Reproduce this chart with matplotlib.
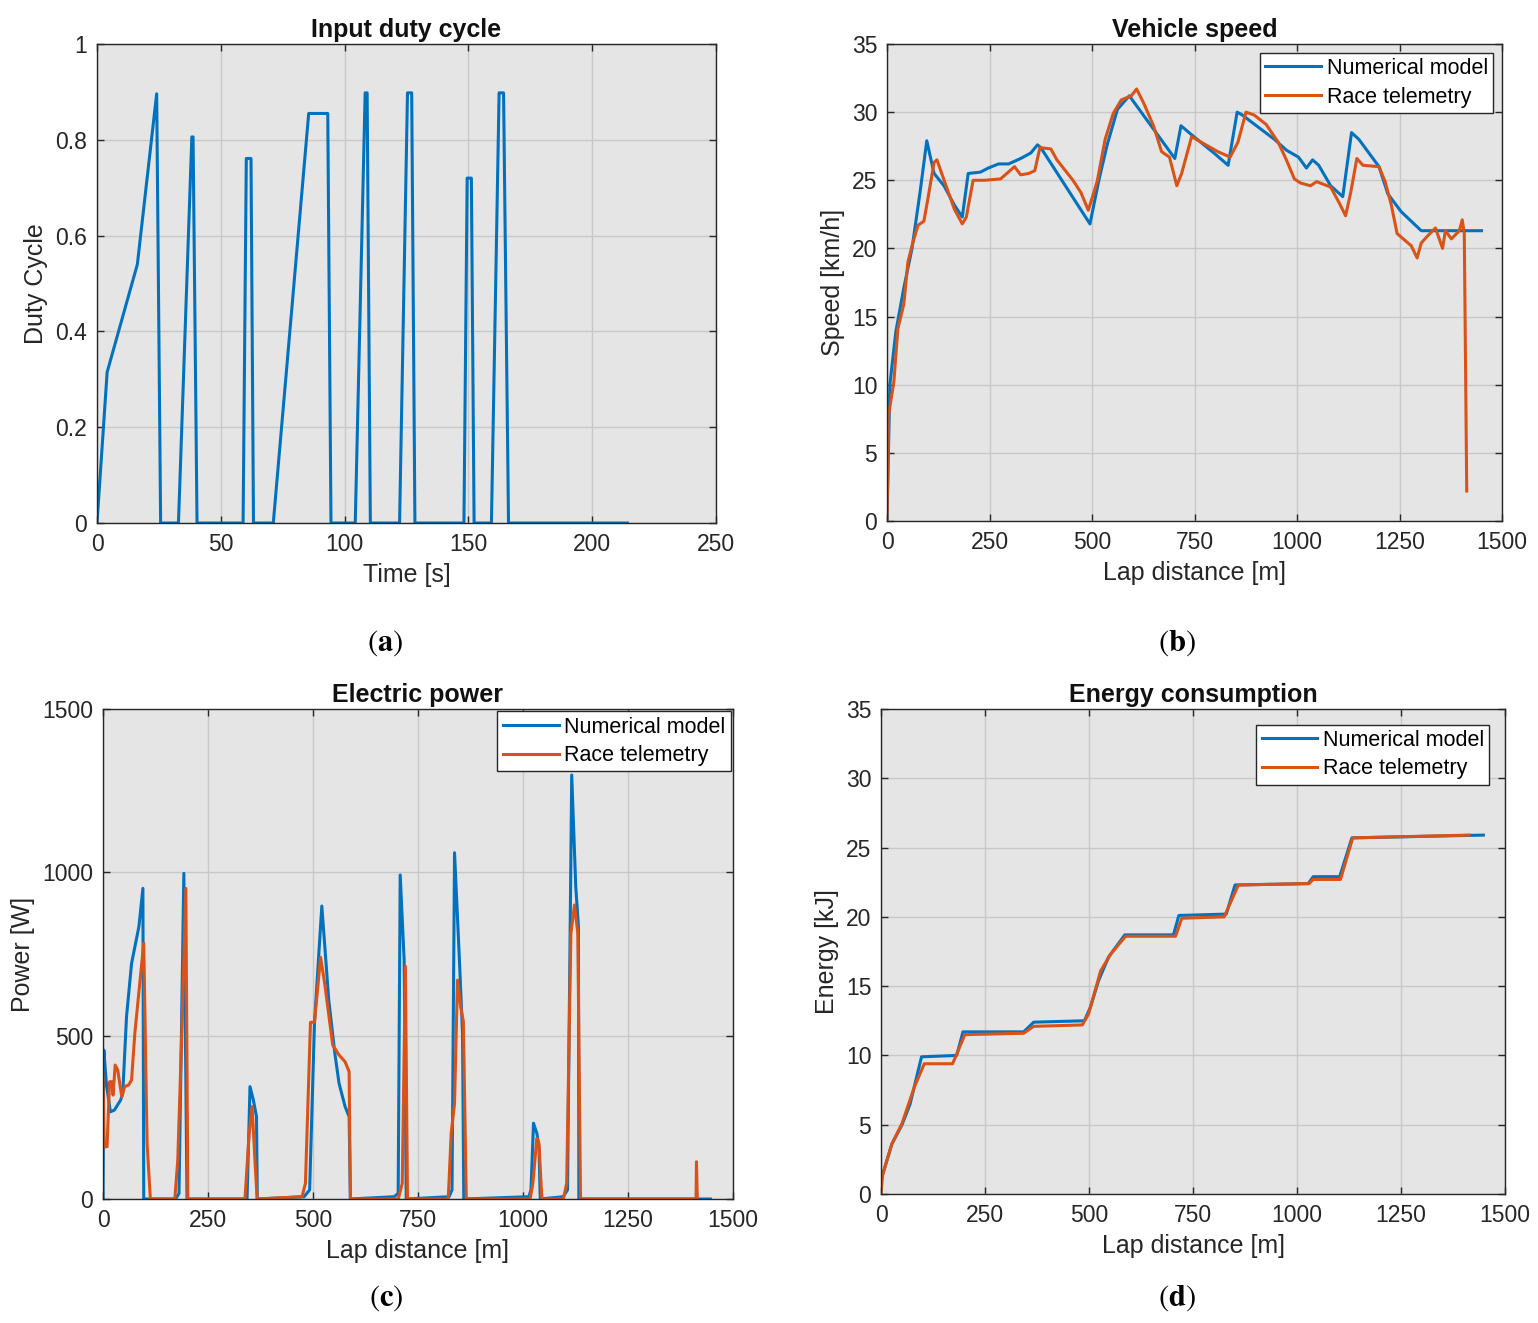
import matplotlib
matplotlib.use("Agg")
import matplotlib.pyplot as plt

# ---------------- data ----------------
# (a) Input duty cycle
duty_t = [0, 4.1, 16.3, 24.1, 25.7, 32.9, 38.3, 38.8, 40.4, 59.0, 60.3, 62.2, 63.2,
          71.2, 85.5, 93.2, 94.5, 104.3, 108.3, 109.1, 110.4, 122.2, 125.4, 127.1, 128.4,
          148.2, 149.5, 151.2, 152.3, 159.3, 162.4, 164.2, 166.2, 214.2]
duty_v = [0, 0.315, 0.54, 0.896, 0, 0, 0.806, 0.806, 0, 0, 0.761, 0.761, 0,
          0, 0.855, 0.855, 0, 0, 0.898, 0.898, 0, 0, 0.898, 0.898, 0,
          0, 0.72, 0.72, 0, 0, 0.898, 0.898, 0, 0]

# (b) Vehicle speed
speed_model_x = [0, 7, 21.6, 41, 61, 80.5, 97, 114.8, 139, 164, 183.6, 198, 228, 247, 272,
                 296.6, 326, 350.6, 367, 375, 495, 517.5, 537, 562, 591, 702, 717, 748.5,
                 797.5, 832, 854, 866, 945, 974.6, 1003.6, 1023, 1038, 1053, 1082, 1111.6,
                 1133, 1151, 1200, 1221.6, 1254, 1303, 1450]
speed_model_y = [0, 10, 13.9, 17.1, 20, 24.1, 27.9, 25.5, 24.6, 23.2, 22.3, 25.5, 25.6, 25.9,
                 26.2, 26.2, 26.6, 27.0, 27.6, 27.4, 21.8, 25.1, 27.6, 30.2, 31.2, 26.6, 29.0,
                 28.2, 27.0, 26.1, 30.0, 29.8, 28.0, 27.2, 26.7, 25.9, 26.5, 26.1, 24.6, 23.8,
                 28.5, 28.0, 26.0, 24.0, 22.7, 21.3, 21.3]
speed_tel_x = [0, 4, 16.7, 26.5, 41, 51, 61, 75.6, 90, 100, 114.8, 121.8, 144, 164, 183.6,
               193.5, 210, 237.6, 277, 311, 326, 345.6, 360.4, 373, 399.6, 414.4, 453.6, 473,
               491, 512.5, 532, 551.7, 571.5, 596, 608.8, 625.5, 650, 669.7, 689, 706.8, 718.6,
               743, 777.7, 807, 837, 856, 875.6, 895, 924.7, 954, 974, 993.6, 1008.5, 1033,
               1048, 1082, 1102, 1118.5, 1131, 1146, 1160.8, 1200, 1215, 1230, 1244, 1259,
               1278.6, 1293, 1303, 1318, 1337.6, 1347, 1355, 1362, 1376.6, 1396, 1403, 1408, 1414]
speed_tel_y = [0, 7.8, 10.2, 14.1, 15.9, 19.0, 20.2, 21.7, 22.0, 23.7, 26.3, 26.5, 24.6, 22.9,
               21.8, 22.3, 25.0, 25.0, 25.1, 26.0, 25.4, 25.5, 25.7, 27.4, 27.3, 26.5, 25.0,
               24.1, 22.8, 24.9, 28.0, 29.9, 30.9, 31.2, 31.7, 30.7, 29.0, 27.1, 26.7, 24.6,
               25.5, 28.2, 27.6, 27.1, 26.7, 27.8, 30.0, 29.8, 29.1, 27.8, 26.5, 25.1, 24.8,
               24.6, 24.9, 24.5, 23.4, 22.4, 24.1, 26.6, 26.1, 26.0, 24.9, 23.2, 21.1, 20.7,
               20.2, 19.3, 20.4, 20.9, 21.5, 20.7, 20.0, 21.3, 20.7, 21.3, 22.1, 21.1, 2.2]

# (c) Electric power
power_model_x = [0, 2, 8, 17.5, 27, 42, 47, 56, 68, 85.5, 95, 97, 173, 181, 192.5, 200,
                 343, 350, 358, 365.5, 367.4, 479, 492, 503.5, 521, 537.5, 552, 562, 576.4,
                 586, 589, 693, 702.8, 707.6, 717, 722, 824, 831, 837, 848.6, 856, 859,
                 1014, 1019, 1025, 1033, 1038, 1041, 1096, 1106, 1116, 1125.6, 1132, 1133, 1446]
power_model_y = [0, 456, 354, 267, 272, 303, 323, 558, 721, 834, 951, 0, 0, 17, 997, 0,
                 0, 344, 303, 252, 0, 7, 28, 538, 897, 609, 446, 354, 283,
                 252, 0, 7, 17, 992, 732, 0, 7, 28, 1060, 732, 507, 0,
                 7, 28, 232, 201, 160, 0, 7, 28, 1298, 956, 834, 0, 0]
power_tel_x = [0, 3, 9.7, 15.6, 21, 24, 29, 35, 44.7, 51.5, 61, 68, 75.8, 87.5, 97, 105, 112.8,
               171, 178, 187.6, 197.3, 202, 338, 348, 355, 362.6, 367, 474, 482, 494, 503.5,
               518, 528, 547, 562, 576.4, 586, 589, 703, 712.5, 720, 725, 822, 829, 837, 844,
               851.5, 858, 865, 1017, 1023.5, 1033, 1038, 1045, 1096, 1104, 1114, 1122.7,
               1130.5, 1137, 1412, 1413, 1415]
power_tel_y = [380, 160, 160, 359, 359, 318, 410, 395, 313, 344, 349, 364, 507, 660, 783, 170, 0,
               0, 119, 507, 951, 0, 0, 201, 283, 99, 0, 7, 48, 541, 541,
               740, 658, 471, 441, 420, 390, 0, 0, 48, 712, 0, 0, 201, 293, 670,
               589, 543, 0, 0, 48, 186, 170, 0, 0, 48, 813, 900,
               813, 0, 0, 114, 0]

# (d) Energy consumption
energy_model_x = [0, 2, 26, 50.6, 70, 97.4, 182, 197, 343, 367, 489, 503.6, 523, 547, 586,
                  703, 716, 830, 851, 1027, 1039, 1102.6, 1132, 1448]
energy_model_y = [0.9, 1.2, 3.6, 5.0, 6.5, 9.9, 10.0, 11.7, 11.7, 12.4, 12.5, 13.5, 15.4, 17.1,
                  18.7, 18.7, 20.1, 20.2, 22.3, 22.4, 22.9, 22.9, 25.7, 25.9]
energy_tel_x = [0, 4, 26, 50.6, 80, 104, 172, 182, 201.6, 343, 367, 484, 499, 528, 552, 588,
                708, 723, 825, 859, 1029, 1039, 1104.5, 1134, 1414]
energy_tel_y = [0, 1.4, 3.6, 5.1, 7.7, 9.4, 9.4, 10.1, 11.5, 11.6, 12.1, 12.2, 13.0, 16.1, 17.3,
                18.6, 18.6, 19.9, 20.0, 22.3, 22.4, 22.7, 22.7, 25.7, 25.9]

series_labels = ["Numerical model", "Race telemetry"]

# ---------------- style ----------------
BLUE = "#0072BD"
ORANGE = "#D95319"
plt.rcParams["font.family"] = ["Liberation Sans", "DejaVu Sans"]
plt.rcParams["mathtext.fontset"] = "stix"

W, H = 1538, 1323
fig = plt.figure(figsize=(W / 100, H / 100), dpi=100)


def make_ax(l, t, r, b):
    return fig.add_axes([l / W, 1 - b / H, (r - l) / W, (b - t) / H])


def style(ax, title, xlabel, ylabel, xlim, ylim, xticks, yticks, yfmt=None):
    ax.set_facecolor("#e5e5e5")
    ax.set_xlim(*xlim)
    ax.set_ylim(*ylim)
    ax.set_xticks(xticks)
    ax.set_yticks(yticks)
    if yfmt is not None:
        ax.set_yticklabels(yfmt)
    ax.grid(True, color="#c8c8c8", linewidth=1.0)
    ax.set_axisbelow(True)
    ax.tick_params(direction="in", top=True, right=True, length=5, width=1,
                   colors="#262626", labelsize=16.5, pad=7)
    for s in ax.spines.values():
        s.set_color("#262626")
        s.set_linewidth(1.0)
    ax.set_title(title, fontsize=18, fontweight="bold", color="#111111", pad=5)
    ax.set_xlabel(xlabel, fontsize=18, color="#262626", labelpad=5)
    ax.set_ylabel(ylabel, fontsize=18, color="#262626", labelpad=5)


def add_legend(ax, pad):
    leg = ax.legend(loc="upper right", fontsize=15.5, fancybox=False, framealpha=1,
                    edgecolor="#262626", handlelength=2.6, borderaxespad=pad,
                    borderpad=0.25, labelspacing=0.35, handletextpad=0.25)
    leg.get_frame().set_linewidth(1.0)


# (a)
ax = make_ax(97, 44, 716, 523)
ax.plot(duty_t, duty_v, color=BLUE, lw=2.2)
style(ax, "Input duty cycle", "Time [s]", "Duty Cycle", (0, 250), (0, 1),
      [0, 50, 100, 150, 200, 250], [0, 0.2, 0.4, 0.6, 0.8, 1],
      ["0", "0.2", "0.4", "0.6", "0.8", "1"])

# (b)
ax = make_ax(887, 44, 1502, 521)
ax.plot(speed_model_x, speed_model_y, color=BLUE, lw=2.2, label=series_labels[0])
ax.plot(speed_tel_x, speed_tel_y, color=ORANGE, lw=2.2, label=series_labels[1])
style(ax, "Vehicle speed", "Lap distance [m]", "Speed [km/h]", (0, 1500), (0, 35),
      list(range(0, 1501, 250)), list(range(0, 36, 5)))
add_legend(ax, 0.4)

# (c)
ax = make_ax(103, 709, 733, 1199)
ax.plot(power_model_x, power_model_y, color=BLUE, lw=2.2, label=series_labels[0])
ax.plot(power_tel_x, power_tel_y, color=ORANGE, lw=2.2, label=series_labels[1])
style(ax, "Electric power", "Lap distance [m]", "Power [W]", (0, 1500), (0, 1500),
      list(range(0, 1501, 250)), [0, 500, 1000, 1500])
add_legend(ax, 0.1)

# (d)
ax = make_ax(881, 709, 1505, 1194)
ax.plot(energy_model_x, energy_model_y, color=BLUE, lw=2.2, label=series_labels[0])
ax.plot(energy_tel_x, energy_tel_y, color=ORANGE, lw=2.2, label=series_labels[1])
style(ax, "Energy consumption", "Lap distance [m]", "Energy [kJ]", (0, 1500), (0, 35),
      list(range(0, 1501, 250)), list(range(0, 36, 5)))
add_legend(ax, 0.72)

# captions
for x, y, s in [(385, 643, "a"), (1177, 643, "b"), (386, 1298, "c"), (1177, 1298, "d")]:
    fig.text(x / W, 1 - y / H, r"$(\mathbf{" + s + r"})$", fontsize=22,
             ha="center", va="center", color="black")

fig.savefig("out.png", dpi=100, facecolor="white")
